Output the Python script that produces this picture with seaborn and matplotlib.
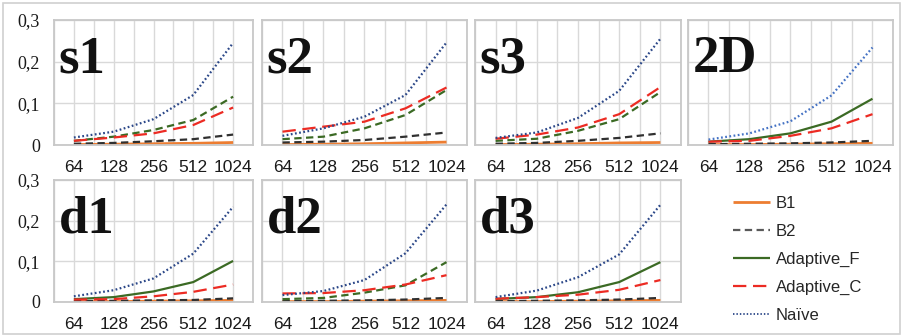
import matplotlib
matplotlib.use("Agg")
import matplotlib.pyplot as plt
import seaborn as sns
import numpy as np
import pandas as pd
from matplotlib.patches import Rectangle
from matplotlib.lines import Line2D

sns.set_theme(style="white")
plt.rcParams['font.family'] = ['Liberation Sans', 'DejaVu Sans']

# ---------------- data ----------------
sizes = ["64", "128", "256", "512", "1024"]
series = ["B1", "B2", "Adaptive_F", "Adaptive_C", "Naïve"]
panels = ["s1", "s2", "s3", "2D", "d1", "d2", "d3"]

s1_B1 = [0.001, 0.002, 0.003, 0.004, 0.006]
s1_B2 = [0.003, 0.005, 0.009, 0.014, 0.025]
s1_AF = [0.010, 0.020, 0.036, 0.060, 0.116]
s1_AC = [0.010, 0.018, 0.028, 0.048, 0.090]
s1_NV = [0.018, 0.032, 0.062, 0.120, 0.245]

s2_B1 = [0.001, 0.002, 0.003, 0.005, 0.007]
s2_B2 = [0.006, 0.008, 0.012, 0.020, 0.030]
s2_AF = [0.014, 0.020, 0.040, 0.072, 0.132]
s2_AC = [0.032, 0.044, 0.056, 0.088, 0.138]
s2_NV = [0.022, 0.040, 0.068, 0.120, 0.246]

s3_B1 = [0.001, 0.002, 0.003, 0.005, 0.006]
s3_B2 = [0.003, 0.005, 0.010, 0.017, 0.028]
s3_AF = [0.010, 0.015, 0.034, 0.062, 0.127]
s3_AC = [0.015, 0.025, 0.042, 0.074, 0.139]
s3_NV = [0.017, 0.030, 0.065, 0.130, 0.255]

d2D_B1 = [0.001, 0.001, 0.002, 0.003, 0.004]
d2D_B2 = [0.002, 0.003, 0.004, 0.006, 0.010]
d2D_AF = [0.008, 0.014, 0.028, 0.056, 0.111]
d2D_AC = [0.008, 0.010, 0.022, 0.040, 0.074]
d2D_NV = [0.013, 0.028, 0.057, 0.119, 0.234]

d1_B1 = [0.001, 0.001, 0.002, 0.003, 0.004]
d1_B2 = [0.002, 0.003, 0.004, 0.005, 0.009]
d1_AF = [0.007, 0.012, 0.026, 0.049, 0.101]
d1_AC = [0.006, 0.007, 0.014, 0.025, 0.043]
d1_NV = [0.014, 0.029, 0.058, 0.119, 0.234]

d2_B1 = [0.001, 0.001, 0.002, 0.003, 0.004]
d2_B2 = [0.002, 0.003, 0.004, 0.006, 0.010]
d2_AF = [0.007, 0.010, 0.023, 0.041, 0.098]
d2_AC = [0.021, 0.022, 0.029, 0.043, 0.066]
d2_NV = [0.017, 0.027, 0.054, 0.120, 0.240]

d3_B1 = [0.001, 0.001, 0.002, 0.003, 0.004]
d3_B2 = [0.002, 0.003, 0.004, 0.006, 0.010]
d3_AF = [0.0075, 0.012, 0.024, 0.049, 0.098]
d3_AC = [0.008, 0.012, 0.018, 0.030, 0.054]
d3_NV = [0.012, 0.028, 0.061, 0.117, 0.239]

yticks = [0, 0.1, 0.2, 0.3]
ytick_labels = ["0", "0,1", "0,2", "0,3"]

panel_data = {
    "s1": [s1_B1, s1_B2, s1_AF, s1_AC, s1_NV],
    "s2": [s2_B1, s2_B2, s2_AF, s2_AC, s2_NV],
    "s3": [s3_B1, s3_B2, s3_AF, s3_AC, s3_NV],
    "2D": [d2D_B1, d2D_B2, d2D_AF, d2D_AC, d2D_NV],
    "d1": [d1_B1, d1_B2, d1_AF, d1_AC, d1_NV],
    "d2": [d2_B1, d2_B2, d2_AF, d2_AC, d2_NV],
    "d3": [d3_B1, d3_B2, d3_AF, d3_AC, d3_NV],
}

# ---------------- styles ----------------
colors = {"B1": "#ED7D31", "B2": "#303030", "Adaptive_F": "#3B6A24",
          "Adaptive_C": "#EC2B23", "Naïve": "#2B4788"}
solid = "-"
short_dash = (0, (3.3, 2.0))
long_dash = (0, (6.0, 3.0))
dotted = (0, (0.8, 1.1))
widths = {"B1": 2.0, "B2": 1.6, "Adaptive_F": 1.6, "Adaptive_C": 1.6, "Naïve": 1.6}
green_dashed_panels = {"s1", "s2", "s3", "d2"}

W, H = 903, 336
fig = plt.figure(figsize=(W / 100, H / 100), dpi=100)

cols = [(54, 253), (262, 467), (475, 681), (688, 893)]
rows = [(20, 145), (180, 302)]
grid_color = "#D9D9D9"

def px_axes(x0, x1, y0, y1):
    return fig.add_axes([x0 / W, 1 - y1 / H, (x1 - x0) / W, (y1 - y0) / H])

xpos = list(range(len(sizes)))
for i, name in enumerate(panels):
    r, c = divmod(i, 4)
    x0, x1 = cols[c]
    y0, y1 = rows[r]
    ax = px_axes(x0, x1, y0, y1)
    vals = panel_data[name]
    for s, v in zip(series, vals):
        if s == "B1":
            ls = solid
        elif s == "B2":
            ls = short_dash
        elif s == "Adaptive_F":
            ls = short_dash if name in green_dashed_panels else solid
        elif s == "Adaptive_C":
            ls = long_dash
        else:
            ls = dotted
        col = colors[s]
        if s == "Naïve" and name == "2D":
            col = "#4472C4"
        sns.lineplot(x=xpos, y=v, ax=ax, color=col, linestyle=ls,
                     linewidth=widths[s], label=s, legend=False,
                     solid_capstyle="butt", dash_capstyle="butt")
    ax.set_xlim(-0.5, 4.5)
    ax.set_ylim(0, 0.3)
    for gx in np.arange(-0.5, 4.51, 0.5):
        ax.axvline(gx, color=grid_color, lw=1.0, zorder=0)
    for gy in yticks:
        ax.axhline(gy, color=grid_color, lw=1.0, zorder=0)
    for sp in ax.spines.values():
        sp.set_color("#C8C8C8")
        sp.set_linewidth(1.3)
    ax.set_xticks(xpos)
    ax.set_xticklabels(sizes, fontsize=12.5, color="#1A1A1A",
                       family=["Liberation Sans", "DejaVu Sans"])
    ax.tick_params(axis="x", length=0, pad=10.5)
    ax.set_yticks(yticks)
    if c == 0:
        ax.set_yticklabels(ytick_labels, fontsize=13, color="#1A1A1A",
                           family=["Liberation Serif", "DejaVu Serif"])
        ax.tick_params(axis="y", length=0, pad=10)
    else:
        ax.set_yticklabels([])
        ax.tick_params(axis="y", length=0)
    ax.set_xlabel("")
    ax.set_ylabel("")
    ax.grid(False)
    hpx = y1 - y0
    wpx = x1 - x0
    ax.text(4.5 / wpx, 1 - 52.5 / hpx, name, transform=ax.transAxes,
            fontsize=38, fontweight="bold", va="baseline", ha="left",
            family=["Liberation Serif", "DejaVu Serif"], color="#111111")

# legend
leg_handles = []
for s in series:
    ls = {"B1": solid, "B2": short_dash, "Adaptive_F": solid,
          "Adaptive_C": long_dash, "Naïve": dotted}[s]
    lc = "#595959" if s == "B2" else colors[s]
    leg_handles.append(Line2D([0], [0], color=lc, linestyle=ls,
                              linewidth=widths[s] if s != "Naïve" else 1.3,
                              dash_capstyle="butt", solid_capstyle="butt"))
fig.legend(leg_handles, series, loc="upper left",
           bbox_to_anchor=(733 / W, 1 - 196 / H), frameon=False,
           handlelength=2.2, handletextpad=0.35,
           labelspacing=0.78, borderpad=0, borderaxespad=0,
           prop={"family": ["Liberation Sans", "DejaVu Sans"], "size": 12})

# outer border
fig.patches.append(Rectangle((3 / W, 2 / H), 897 / W, 331 / H,
                             transform=fig.transFigure, fill=False,
                             edgecolor="#D0D0D0", lw=1.2))

fig.savefig("out.png", dpi=100)
